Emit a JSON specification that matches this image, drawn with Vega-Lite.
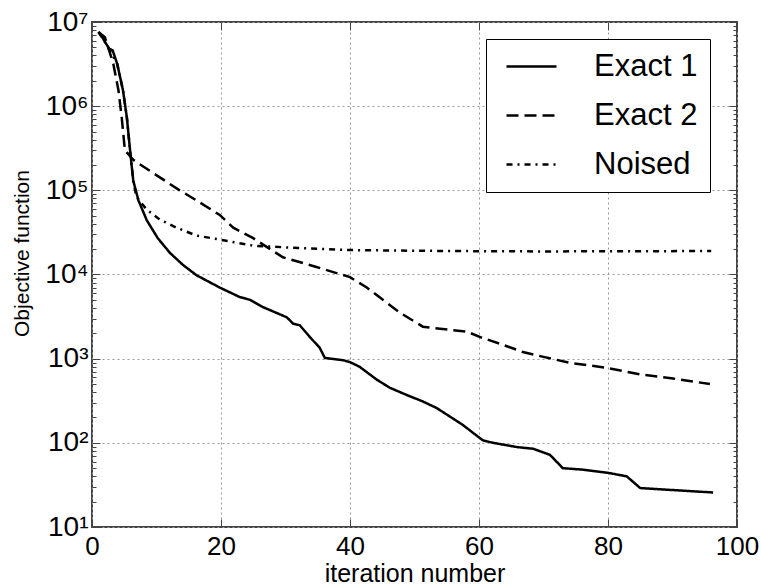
{
  "$schema": "https://vega.github.io/schema/vega-lite/v6.json",
  "width": 645,
  "height": 505,
  "autosize": {"type": "none"},
  "padding": {"left": 92, "top": 22, "right": 24, "bottom": 60},
  "background": "white",
  "config": {
    "font": "Liberation Sans",
    "view": {"stroke": "#444444", "strokeWidth": 2},
    "axis": {"domain": false, "labelFlush": false, "labelFont": "Liberation Sans", "titleFont": "Liberation Sans", "labelColor": "black", "titleColor": "black", "tickColor": "#444444", "gridColor": "#999999", "gridDash": [2, 3], "gridWidth": 1}
  },
  "data": {
    "values": [
      {"series": "Exact 1", "i": 1, "v": 7600000},
      {"series": "Exact 1", "i": 1.5, "v": 6800000},
      {"series": "Exact 1", "i": 2, "v": 5800000},
      {"series": "Exact 1", "i": 2.7, "v": 4800000},
      {"series": "Exact 1", "i": 3.2, "v": 4600000},
      {"series": "Exact 1", "i": 3.9, "v": 3200000},
      {"series": "Exact 1", "i": 4.8, "v": 1550000},
      {"series": "Exact 1", "i": 5.4, "v": 740000},
      {"series": "Exact 1", "i": 5.9, "v": 300000},
      {"series": "Exact 1", "i": 6.4, "v": 130000},
      {"series": "Exact 1", "i": 7.2, "v": 76000},
      {"series": "Exact 1", "i": 8.5, "v": 44000},
      {"series": "Exact 1", "i": 10.2, "v": 27000},
      {"series": "Exact 1", "i": 12.1, "v": 18000},
      {"series": "Exact 1", "i": 14.1, "v": 13000},
      {"series": "Exact 1", "i": 16.2, "v": 9800},
      {"series": "Exact 1", "i": 19.8, "v": 7000},
      {"series": "Exact 1", "i": 22.9, "v": 5400},
      {"series": "Exact 1", "i": 24.5, "v": 5000},
      {"series": "Exact 1", "i": 26.5, "v": 4100},
      {"series": "Exact 1", "i": 28.6, "v": 3500},
      {"series": "Exact 1", "i": 30.2, "v": 3100},
      {"series": "Exact 1", "i": 31.2, "v": 2600},
      {"series": "Exact 1", "i": 32.2, "v": 2500},
      {"series": "Exact 1", "i": 33.8, "v": 1800},
      {"series": "Exact 1", "i": 35.3, "v": 1350},
      {"series": "Exact 1", "i": 36.1, "v": 1020},
      {"series": "Exact 1", "i": 38.9, "v": 960},
      {"series": "Exact 1", "i": 40, "v": 910},
      {"series": "Exact 1", "i": 41.5, "v": 800},
      {"series": "Exact 1", "i": 44.2, "v": 560},
      {"series": "Exact 1", "i": 46.2, "v": 450},
      {"series": "Exact 1", "i": 48.8, "v": 370},
      {"series": "Exact 1", "i": 51.3, "v": 310},
      {"series": "Exact 1", "i": 53.4, "v": 260},
      {"series": "Exact 1", "i": 55.5, "v": 205},
      {"series": "Exact 1", "i": 57.5, "v": 163},
      {"series": "Exact 1", "i": 59.1, "v": 131},
      {"series": "Exact 1", "i": 60.6, "v": 107},
      {"series": "Exact 1", "i": 62.2, "v": 100},
      {"series": "Exact 1", "i": 65.9, "v": 89},
      {"series": "Exact 1", "i": 68.4, "v": 85},
      {"series": "Exact 1", "i": 71, "v": 72},
      {"series": "Exact 1", "i": 73, "v": 50},
      {"series": "Exact 1", "i": 76.1, "v": 48},
      {"series": "Exact 1", "i": 80, "v": 44},
      {"series": "Exact 1", "i": 82.9, "v": 40},
      {"series": "Exact 1", "i": 85, "v": 29},
      {"series": "Exact 1", "i": 96.3, "v": 25.7},
      {"series": "Exact 2", "i": 1, "v": 7600000},
      {"series": "Exact 2", "i": 2, "v": 6600000},
      {"series": "Exact 2", "i": 3.3, "v": 3200000},
      {"series": "Exact 2", "i": 4.1, "v": 1550000},
      {"series": "Exact 2", "i": 4.6, "v": 740000},
      {"series": "Exact 2", "i": 5.1, "v": 300000},
      {"series": "Exact 2", "i": 6.4, "v": 230000},
      {"series": "Exact 2", "i": 9.5, "v": 160000},
      {"series": "Exact 2", "i": 13.6, "v": 100000},
      {"series": "Exact 2", "i": 16.2, "v": 76000},
      {"series": "Exact 2", "i": 19.8, "v": 51000},
      {"series": "Exact 2", "i": 21.9, "v": 36000},
      {"series": "Exact 2", "i": 25, "v": 27000},
      {"series": "Exact 2", "i": 29.6, "v": 16000},
      {"series": "Exact 2", "i": 34.8, "v": 12300},
      {"series": "Exact 2", "i": 40, "v": 9300},
      {"series": "Exact 2", "i": 42.6, "v": 7000},
      {"series": "Exact 2", "i": 45.1, "v": 5000},
      {"series": "Exact 2", "i": 47.8, "v": 3500},
      {"series": "Exact 2", "i": 51.3, "v": 2400},
      {"series": "Exact 2", "i": 55.5, "v": 2200},
      {"series": "Exact 2", "i": 58.1, "v": 2100},
      {"series": "Exact 2", "i": 60.2, "v": 1800},
      {"series": "Exact 2", "i": 63.3, "v": 1500},
      {"series": "Exact 2", "i": 66.8, "v": 1200},
      {"series": "Exact 2", "i": 70, "v": 1050},
      {"series": "Exact 2", "i": 74.1, "v": 890},
      {"series": "Exact 2", "i": 79.8, "v": 780},
      {"series": "Exact 2", "i": 85, "v": 650},
      {"series": "Exact 2", "i": 90.1, "v": 580},
      {"series": "Exact 2", "i": 95.8, "v": 500},
      {"series": "Noised", "i": 1, "v": 7600000},
      {"series": "Noised", "i": 2, "v": 5800000},
      {"series": "Noised", "i": 3.9, "v": 3200000},
      {"series": "Noised", "i": 4.8, "v": 1550000},
      {"series": "Noised", "i": 5.4, "v": 740000},
      {"series": "Noised", "i": 5.9, "v": 300000},
      {"series": "Noised", "i": 6.4, "v": 130000},
      {"series": "Noised", "i": 6.9, "v": 83000},
      {"series": "Noised", "i": 8.5, "v": 59000},
      {"series": "Noised", "i": 10.5, "v": 45000},
      {"series": "Noised", "i": 13.1, "v": 36000},
      {"series": "Noised", "i": 16.2, "v": 29000},
      {"series": "Noised", "i": 19.8, "v": 26000},
      {"series": "Noised", "i": 25, "v": 22000},
      {"series": "Noised", "i": 32.2, "v": 20600},
      {"series": "Noised", "i": 40, "v": 19500},
      {"series": "Noised", "i": 55.5, "v": 19000},
      {"series": "Noised", "i": 70, "v": 18800},
      {"series": "Noised", "i": 96, "v": 19000}
    ]
  },
  "layer": [
    {
      "mark": {"type": "line", "color": "black", "strokeWidth": 2.5, "clip": true},
      "encoding": {
        "x": {
          "field": "i", "type": "quantitative",
          "scale": {"domain": [0, 100], "nice": false, "zero": false},
          "axis": {"values": [0, 20, 40, 60, 80, 100], "title": "iteration number", "titleFontSize": 25, "titleFontWeight": "normal", "labelFontSize": 26, "tickSize": -8, "tickWidth": 1, "labelPadding": 14, "titlePadding": 2, "grid": true}
        },
        "y": {
          "field": "v", "type": "quantitative",
          "scale": {"type": "log", "domain": [10, 10000000], "nice": false},
          "axis": {
            "values": [10, 20, 30, 40, 50, 60, 70, 80, 90, 100, 200, 300, 400, 500, 600, 700, 800, 900, 1000, 2000, 3000, 4000, 5000, 6000, 7000, 8000, 9000, 10000, 20000, 30000, 40000, 50000, 60000, 70000, 80000, 90000, 100000, 200000, 300000, 400000, 500000, 600000, 700000, 800000, 900000, 1000000, 2000000, 3000000, 4000000, 5000000, 6000000, 7000000, 8000000, 9000000, 10000000],
            "labelExpr": "abs(log(datum.value)/LN10 - round(log(datum.value)/LN10)) < 0.000001 ? '10' + ['⁰','¹','²','³','⁴','⁵','⁶','⁷'][round(log(datum.value)/LN10)] : ''",
            "title": "Objective function", "titleFontSize": 21, "titleFontWeight": "normal", "titleY": 231,
            "labelFontSize": 28, "labelPadding": 12, "titlePadding": 12,
            "tickSize": {"condition": {"test": "abs(log(datum.value)/LN10 - round(log(datum.value)/LN10)) < 0.000001", "value": -8}, "value": -4},
            "tickWidth": 1,
            "grid": true,
            "gridOpacity": {"condition": {"test": "abs(log(datum.value)/LN10 - round(log(datum.value)/LN10)) < 0.000001", "value": 1}, "value": 0}
          }
        },
        "strokeDash": {
          "field": "series", "type": "nominal",
          "scale": {"domain": ["Exact 1", "Exact 2", "Noised"], "range": [[1, 0], [12, 6], [6, 5, 2, 5]]},
          "legend": {
            "title": null, "orient": "none", "legendX": 394, "legendY": 17,
            "strokeColor": "black", "fillColor": "white", "padding": 12,
            "labelFontSize": 31, "labelFont": "Liberation Sans", "labelColor": "black",
            "symbolType": "M-2,0H2", "symbolSize": 625, "symbolStrokeWidth": 2.5, "symbolStrokeColor": "black",
            "symbolOffset": 18, "labelOffset": 47, "rowPadding": 17
          }
        }
      }
    },
    {
      "mark": {"type": "line", "opacity": 0},
      "encoding": {
        "x": {
          "field": "i", "type": "quantitative",
          "axis": {"orient": "top", "values": [0, 20, 40, 60, 80, 100], "labels": false, "title": null, "tickSize": -8, "grid": false}
        },
        "y": {
          "field": "v", "type": "quantitative",
          "axis": {
            "orient": "right",
            "values": [10, 20, 30, 40, 50, 60, 70, 80, 90, 100, 200, 300, 400, 500, 600, 700, 800, 900, 1000, 2000, 3000, 4000, 5000, 6000, 7000, 8000, 9000, 10000, 20000, 30000, 40000, 50000, 60000, 70000, 80000, 90000, 100000, 200000, 300000, 400000, 500000, 600000, 700000, 800000, 900000, 1000000, 2000000, 3000000, 4000000, 5000000, 6000000, 7000000, 8000000, 9000000, 10000000],
            "labels": false, "title": null, "grid": false,
            "tickSize": {"condition": {"test": "abs(log(datum.value)/LN10 - round(log(datum.value)/LN10)) < 0.000001", "value": -8}, "value": -4}
          }
        },
        "detail": {"field": "series"}
      }
    }
  ],
  "resolve": {"axis": {"x": "independent", "y": "independent"}}
}
